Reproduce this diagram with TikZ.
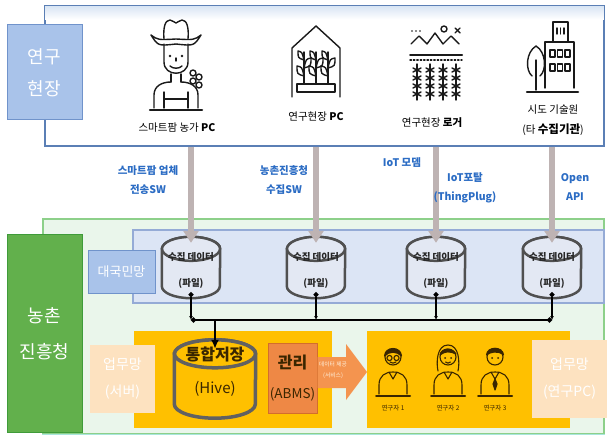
\documentclass[tikz,border=0pt]{standalone}
\usepackage{fontspec}
\setmainfont{Noto Sans CJK KR}
\usetikzlibrary{arrows.meta,calc}

\definecolor{fieldline}{HTML}{5B7FB5}
\definecolor{fieldband}{HTML}{D9E5F4}
\definecolor{labblue}{HTML}{A9C3EA}
\definecolor{labblueline}{HTML}{7093CB}
\definecolor{agencyline}{HTML}{8DD08A}
\definecolor{agencyfill}{HTML}{EAF6EB}
\definecolor{agencybase}{HTML}{A8E6DC}
\definecolor{agencygreen}{HTML}{62B04C}
\definecolor{agencygreenline}{HTML}{3F9B3A}
\definecolor{netfill}{HTML}{DCE5F5}
\definecolor{netline}{HTML}{95ABD6}
\definecolor{drumgray}{HTML}{505050}
\definecolor{drumfill}{HTML}{E3E8F3}
\definecolor{gold}{HTML}{FFC000}
\definecolor{mgmt}{HTML}{EE8845}
\definecolor{mgmtline}{HTML}{D36D2C}
\definecolor{svc}{HTML}{F4944F}
\definecolor{peach}{HTML}{FDE2C0}
\definecolor{textblue}{HTML}{2B6CC4}
\definecolor{feedgray}{HTML}{BEB3B3}
\definecolor{ink}{HTML}{3A2600}
\definecolor{iconink}{HTML}{1A1A1A}

% cylinder outline around a named rectangular node: #1 node, #2 x radius, #3 y radius, #4 style
\newcommand\drumpath[4]{%
  \filldraw[#4] ($(#1.north west)+(0,#3)$) -- ($(#1.south west)+(0,-#3)$)
    arc[start angle=180,end angle=0,x radius=#2,y radius=#3]
    -- ($(#1.north east)+(0,#3)$)
    arc[start angle=0,end angle=-180,x radius=#2,y radius=#3] -- cycle;
  \draw[#4] ($(#1.north)+(0,#3)$) ellipse[x radius=#2,y radius=#3];
}

\tikzset{
  zone/.style={rectangle, inner sep=0pt},
  tag/.style={zone, text=white, align=center},
  bluetxt/.style={text=textblue, font=\fontsize{10.5}{19}\selectfont\bfseries, align=center, inner sep=0pt},
  sitetxt/.style={font=\fontsize{10.5}{20}\selectfont, align=center, inner sep=0pt},
  drumbox/.style={rectangle, inner sep=0pt, minimum width=58pt, minimum height=61pt},
  drumtxt/.style={font=\fontsize{9.5}{26}\selectfont\bfseries, align=center, inner sep=0pt, text=black!85},
  drumline/.style={draw=drumgray, line width=2.5pt, fill=drumfill},
  hiveline/.style={draw=drumgray!90, line width=3.5pt, fill=gold},
  feed/.style={draw=feedgray, line width=6pt, -{Triangle[width=15pt,length=12pt]}},
  tap/.style={line width=1.2pt, {Circle[length=5pt]}-{Latex[length=4pt,width=4pt]}},
  bus/.style={line width=2.2pt, {Circle[length=5pt]}-{Circle[length=5pt]}},
  busdrop/.style={line width=2.2pt, -{Latex[length=9pt,width=8pt]}},
  icon/.style={line width=1.4pt, line cap=round, line join=round, draw=iconink},
  person/.style={line width=1.1pt, line cap=round, line join=round, draw=ink},
  personlab/.style={font=\fontsize{6.5}{8}\selectfont, text=ink, inner sep=0pt},
}

\begin{document}
\begin{tikzpicture}[x=1pt,y=-1pt]
\useasboundingbox (0,0) rectangle (609,443);
\fill[white] (0,0) rectangle (609,443);

% ---------- research field panel ----------
\node[zone, draw=fieldline, line width=1.2pt, fill=white, minimum width=559pt, minimum height=140pt] (field) at (324.5,76) {};
\shade[top color=fieldband, bottom color=white] ($(field.north west)+(0.8,0.8)$) rectangle ($(field.north east)+(-0.8,14)$);
\node[tag, draw=labblueline, fill=labblue, line width=1pt, minimum width=75pt, minimum height=95pt,
      font=\fontsize{18}{32}\selectfont] (fieldtag) at (44.5,72.5) {연구\\현장};

% farmer
\begin{scope}[icon]
  \draw (164,39) .. controls (163,28) and (165,20) .. (170,20) .. controls (173,20) and (174,23) .. (176,23)
        .. controls (178,23) and (179,20) .. (182,20) .. controls (187,20) and (189,28) .. (188,39);
  \draw (151,35) .. controls (158,46) .. (176,44) .. controls (194,46) .. (201,35)
        .. controls (194,40) .. (176,39) .. controls (158,40) .. (151,35);
  \draw (164,44) -- (164,62) .. controls (164,77) and (188,77) .. (188,62) -- (188,44);
  \fill[iconink] (170,56) circle (1.4);
  \fill[iconink] (182,56) circle (1.4);
  \draw (176,58) -- (176,61);
  \draw (170,66) .. controls (173,69) and (179,69) .. (182,66);
  \draw (171,74) -- (171,82);
  \draw (181,74) -- (181,82);
  \draw (154,108) -- (154,95) .. controls (154,86) and (162,82) .. (171,82);
  \draw (181,82) .. controls (190,82) and (198,86) .. (198,95) -- (198,108);
  \draw (164,92) -- (164,108);
  \draw (188,92) -- (188,108);
  \draw (164,99) -- (188,99);
  \foreach \p in {(193,73),(199,77),(193,81),(199,85)} \draw[fill=white] \p circle (3);
  \draw[line width=2.5pt] (150,110) -- (202,110);
\end{scope}

% greenhouse
\begin{scope}[icon]
  \draw (292,97) -- (292,48) -- (316,26) -- (340,48) -- (340,97);
  \draw (297,84) rectangle (335,92);
  \foreach \x in {304,316,328} {
    \draw (\x,84) -- (\x,52);
    \draw (\x,76) .. controls (\x-7,74) .. (\x-7,66) .. controls (\x-2,67) .. (\x,76);
    \draw (\x,68) .. controls (\x+7,66) .. (\x+7,58) .. controls (\x+2,59) .. (\x,68);
    \draw (\x,60) .. controls (\x-6,58) .. (\x-6,51) .. controls (\x-2,52) .. (\x,60);
  }
\end{scope}

% field logger
\begin{scope}[icon]
  \draw (411,44) -- (419,36) -- (427,44) -- (435,33) -- (443,44) -- (451,36) -- (459,44);
  \draw (444,29) circle (3);
  \draw (455,28) -- (460,33);
  \draw (460,28) -- (455,33);
  \foreach \x in {412,416,420} \fill[iconink] (\x,31) circle (0.8);
  \draw[line width=2pt] (410,55) -- (462,55);
  \draw[dotted] (410,60) -- (462,60);
  \foreach \x in {417,430,443,456} {
    \draw (\x,64) -- (\x,100);
    \foreach \yy in {70,78,86,94} {
      \draw (\x-4,\yy-2) -- (\x+4,\yy+2);
      \draw (\x-4,\yy+2) -- (\x+4,\yy-2);
    }
  }
\end{scope}

% institute building
\begin{scope}[icon]
  \draw (536,90) -- (536,60);
  \draw (532,76) .. controls (525,70) and (526,52) .. (536,46) .. controls (546,52) and (547,70) .. (540,76);
  \draw (545,88) -- (545,42) -- (574,42) -- (574,88);
  \draw (553,42) -- (553,22) -- (568,22) -- (568,42);
  \foreach \x in {557,560.5,564} \draw (\x,28) -- (\x,34);
  \foreach \x in {550,557.5,565} {
    \draw (\x,50) rectangle +(5,7);
    \draw (\x,64) rectangle +(5,7);
  }
  \draw[line width=2.5pt] (527,92) -- (578,92);
\end{scope}

\node[sitetxt] (site1) at (177,128) {스마트팜 농가 \textbf{PC}};
\node[sitetxt] (site2) at (316,117) {연구현장 \textbf{PC}};
\node[sitetxt] (site3) at (432,123) {연구현장 \textbf{로거}};
\node[sitetxt] (site4) at (553,120) {시도 기술원\\(타 \textbf{\fontsize{11.5}{20}\selectfont 수집기관})};

% ---------- agency panel ----------
\node[zone, draw=agencyline, line width=1.2pt, fill=agencyfill, minimum width=561pt, minimum height=215pt] (agency) at (323.5,326.5) {};
\draw[agencybase, line width=1.2pt] (agency.south west) -- (agency.south east);
\node[tag, draw=agencygreenline, fill=agencygreen, line width=1pt, minimum width=75pt, minimum height=197pt,
      font=\fontsize{18}{36}\selectfont] (agencytag) at (44.5,333.5) {농촌\\진흥청};

% public network
\node[zone, draw=netline, line width=1.2pt, fill=netfill, minimum width=471pt, minimum height=73pt] (net) at (368.5,266.5) {};
\node[tag, draw=labblueline, fill=labblue, line width=1pt, minimum width=67pt, minimum height=43pt,
      font=\fontsize{13}{16}\selectfont] (nettag) at (121.5,271.5) {대국민망};

% collected data drums
\node[drumbox] (c1) at (191,267.5) {};
\node[drumbox] (c2) at (316,267.5) {};
\node[drumbox] (c3) at (436,267.5) {};
\node[drumbox] (c4) at (552,267.5) {};
\foreach \c in {c1,c2,c3,c4} {\drumpath{\c}{29}{12}{drumline}}
\node[drumtxt] (c1t) at ($(c1)+(0,2.5)$) {수집 데이터\\(파일)};
\node[drumtxt] (c2t) at ($(c2)+(0,2.5)$) {수집 데이터\\(파일)};
\node[drumtxt] (c3t) at ($(c3)+(0,2.5)$) {수집 데이터\\(파일)};
\node[drumtxt] (c4t) at ($(c4)+(0,2.5)$) {수집 데이터\\(파일)};

% transfer arrows
\foreach \c in {c1,c2,c3,c4} \draw[feed] (field.south -| \c) -- ($(\c.north)+(0,6)$);
\node[bluetxt] (via1) at (148,180) {스마트팜 업체\\전송SW};
\node[bluetxt] (via2) at (284,180) {농촌진흥청\\수집SW};
\node[bluetxt] (via3) at (402,163) {IoT 모뎀};
\node[bluetxt] (via4) at (465,188) {IoT포탈\\(ThingPlug)};
\node[bluetxt] (via5) at (575,187) {Open\\API};

% internal business area
\node[zone, fill=gold, minimum width=198pt, minimum height=97pt] (store) at (233,379.5) {};
\node[zone, fill=gold, minimum width=203pt, minimum height=97pt] (users) at (468.5,379.5) {};
\node[tag, fill=peach, minimum width=65pt, minimum height=68pt, font=\fontsize{14}{27}\selectfont] (srvtag) at (122.5,379) {업무망\\(서버)};
\node[tag, fill=peach, minimum width=75pt, minimum height=78pt, font=\fontsize{14}{27}\selectfont] (pctag) at (569.5,379) {업무망\\(연구PC)};

% integrated storage
\node[rectangle, inner sep=0pt, minimum width=81pt, minimum height=78pt] (hive) at (215,379) {};
\drumpath{hive}{40.5}{14}{hiveline}
\node[align=center, inner sep=0pt, text=ink, font=\fontsize{15}{33}\selectfont] (hivet) at ($(hive)+(0,-7)$) {\textbf{\fontsize{16}{33}\selectfont 통합저장}\\(Hive)};

% management
\node[zone, draw=mgmtline, fill=mgmt, line width=1pt, minimum width=49pt, minimum height=70pt,
      align=center, text=ink, font=\fontsize{13.5}{30}\selectfont] (mgmt) at (292.5,378) {\textbf{\fontsize{16}{30}\selectfont 관리}\\(ABMS)};

% data service arrow
\fill[svc] (mgmt.east |- 0,357) -- (346,357) -- (346,344) -- (367,372) -- (346,400) -- (346,388) -- (mgmt.east |- 0,388) -- cycle;
\node[align=center, inner sep=0pt, text=peach!60!white, font=\fontsize{5.8}{11}\selectfont] (svct) at (333,370) {데이터 제공\\(서비스)};

% collection bus
\coordinate (busy) at (0,320);
\foreach \c in {c1,c2,c3,c4} \draw[tap] ($(\c.south)+(0,-6)$) -- (\c |- busy);
\draw[bus] (c1 |- busy) -- (c4 |- busy);
\draw[busdrop] (hive |- busy) -- ($(hive.north)+(0,9)$);

% researchers
\begin{scope}[person]
  % researcher 1 (glasses)
  \draw (393,357) circle (8);
  \draw[fill=ink] (384.5,356) .. controls (385,346) and (401,346) .. (401.5,356) .. controls (397,351) and (389,351) .. (384.5,356);
  \draw (389.5,358) circle (2.6);
  \draw (396.5,358) circle (2.6);
  \draw (390,362) .. controls (392,363.5) and (394,363.5) .. (396,362);
  % researcher 2 (long hair)
  \draw (448,357) circle (8);
  \draw (438,371) .. controls (436,362) and (437,345) .. (448,345) .. controls (459,345) and (460,362) .. (458,371);
  \draw[fill=ink] (440,355) .. controls (441,348) and (452,347) .. (456,354) .. controls (450,351) and (445,351) .. (440,355);
  \fill[ink] (445,358) circle (1);
  \fill[ink] (451,358) circle (1);
  \draw (445.5,362) .. controls (447,363.5) and (449,363.5) .. (450.5,362);
  % researcher 3 (tie)
  \draw (495,357) circle (8);
  \draw[fill=ink] (486.5,355) .. controls (487,346) and (503,346) .. (503.5,355) .. controls (498,350) and (490,352) .. (486.5,355);
  \fill[ink] (492,358) circle (1);
  \fill[ink] (498,358) circle (1);
  \draw[fill=ink] (495,379) -- (493,384) -- (495,390) -- (497,384) -- cycle;
  \foreach \cx in {393,448,495} {
    \draw (\cx-14,394) -- (\cx-14,385) .. controls (\cx-14,376) and (\cx-8,372) .. (\cx,372)
          .. controls (\cx+8,372) and (\cx+14,376) .. (\cx+14,385) -- (\cx+14,394);
    \draw (\cx-4,372) -- (\cx,379) -- (\cx+4,372);
    \draw[line width=2pt] (\cx-17,396) -- (\cx+17,396);
  }
\end{scope}
\node[personlab] (r1) at (393,408) {연구자 1};
\node[personlab] (r2) at (448,408) {연구자 2};
\node[personlab] (r3) at (495,408) {연구자 3};
\end{tikzpicture}
\end{document}
